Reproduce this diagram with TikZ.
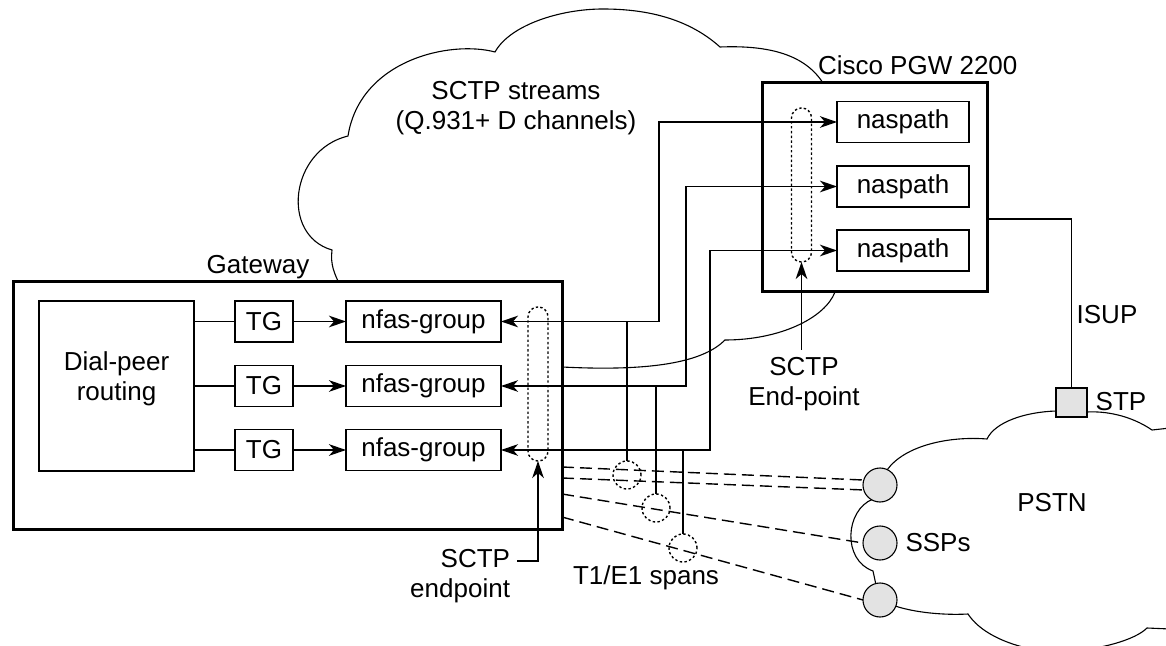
\documentclass[tikz,border=0pt]{standalone}
\usepackage{fontspec}
\setmainfont{Liberation Sans}
\usetikzlibrary{arrows.meta,calc}
\begin{document}
\begin{tikzpicture}[x=0.5pt,y=-0.5pt,
  every node/.style={font=\fontsize{13pt}{15pt}\selectfont, inner sep=0pt, outer sep=0pt},
  bigbox/.style={draw, line width=1.5pt, fill=white},
  box/.style={draw, line width=0.85pt, fill=white, minimum height=20.5pt},
  tgbox/.style={box, minimum width=29pt},
  nfbox/.style={box, minimum width=77.5pt},
  npbox/.style={box, minimum width=66pt},
  dotrect/.style={draw, line width=0.7pt, dash pattern=on 1.2pt off 1.2pt, rounded corners=4.9pt, minimum width=10pt, minimum height=77pt},
  dotcirc/.style={circle, draw, line width=0.7pt, dash pattern=on 1.2pt off 1.2pt, minimum size=14pt},
  ssp/.style={circle, draw, line width=0.55pt, fill=gray!22, minimum size=17pt},
  conn/.style={line width=0.85pt},
  tipst/.tip={Stealth[length=8.5pt,width=5.8pt,inset=2.5pt]},
  arr/.style={conn, -tipst},
  arrboth/.style={conn, tipst-tipst},
  spanline/.style={line width=0.7pt, dash pattern=on 6pt off 3pt},
  cloudline/.style={line width=0.55pt}
]
\useasboundingbox (0,0) rectangle (1166,646);
\clip (0,0) rectangle (1166,646);

% SCTP cloud
\draw[cloudline] (562,367) .. controls (660,372) and (705,360) .. (725,340)
  .. controls (780,340) and (825,318) .. (835,292) -- (823,83)
  .. controls (805,55) and (770,45) .. (720,47)
  .. controls (690,20) and (650,9) .. (603,9)
  .. controls (560,9) and (510,25) .. (495,52)
  .. controls (450,40) and (360,60) .. (348,136)
  .. controls (290,150) and (280,235) .. (332,250)
  .. controls (330,265) and (335,275) .. (340,285) -- (540,360);

% PSTN cloud
\draw[cloudline] (1170,428) -- (1152,430)
  .. controls (1130,415) and (1105,411) .. (1087,412) -- (1056,411)
  .. controls (1025,412) and (995,422) .. (987,439)
  .. controls (950,436) and (905,445) .. (887,470) -- (873,499)
  .. controls (845,510) and (842,560) .. (873,571) -- (876,585) -- (895,606)
  .. controls (920,614) and (950,615) .. (968,614)
  .. controls (985,640) and (1030,652) .. (1060,652)
  .. controls (1100,650) and (1135,640) .. (1147,628) -- (1170,629);

% Gateway
\node[bigbox, minimum width=274.5pt, minimum height=123.5pt] (gw) at (287.5,405.5) {};
\node at (258,267) {Gateway};
\node[draw, line width=0.85pt, fill=white, minimum width=77.5pt, minimum height=85pt] (dp) at (116.5,386) {};
\node[align=center] at (116.5,379) {Dial-peer\\routing};
\node[tgbox] (tg1) at (264,321.5) {TG};
\node[tgbox] (tg2) at (264,386) {TG};
\node[tgbox] (tg3) at (264,450) {TG};
\node[nfbox] (nf1) at (423.5,321.5) {nfas-group};
\node[nfbox] (nf2) at (423.5,386) {nfas-group};
\node[nfbox] (nf3) at (423.5,450) {nfas-group};
\node[dotrect] (ge) at (538,384) {};

\foreach \i in {1,2,3}{
  \draw[conn] (tg\i.west -| dp.east) -- (tg\i.west);
  \draw[arr] (tg\i) -- (nf\i);
}

% PGW
\node[bigbox, minimum width=112.5pt, minimum height=104.5pt] (pgw) at (874.5,187.5) {};
\node[anchor=west] at (818,65) {Cisco PGW 2200};
\node[npbox] (np1) at (903,122) {naspath};
\node[npbox] (np2) at (903,186.5) {naspath};
\node[npbox] (np3) at (903,250.5) {naspath};
\node[dotrect] (pe) at (801.5,185) {};

% D-channel connectors
\coordinate (b1) at (659,0);
\coordinate (b2) at (686,0);
\coordinate (b3) at (710,0);
\foreach \i in {1,2,3}{
  \draw[arrboth] (nf\i.east) -- (nf\i.east -| b\i) |- (np\i.west);
}

% T1/E1 span circles
\node[dotcirc] (s1) at (627,475) {};
\node[dotcirc] (s2) at (656,508) {};
\node[dotcirc] (s3) at (683,548) {};
\draw[conn] (s1.north) -- (s1.north |- nf1.east);
\draw[conn] (s2.north) -- (s2.north |- nf2.east);
\draw[conn] (s3.north) -- (s3.north |- nf3.east);

% SSPs and STP
\node[ssp] (ssp1) at (880,485) {};
\node[ssp] (ssp2) at (880,543) {};
\node[ssp] (ssp3) at (880,600) {};
\node[draw, line width=0.6pt, fill=gray!22, minimum width=15.5pt, minimum height=14.5pt] (stp) at (1071.5,402.5) {};
\node at (1121,402) {STP};
\node at (938,543) {SSPs};
\node at (1052,503) {PSTN};
\node at (1107,315) {ISUP};
\draw[line width=0.6pt] (pgw.east) ++(0,31.5) -| (stp.north);

% spans (dashed)
\coordinate (g1) at (562,467);
\coordinate (g2) at (562,478);
\coordinate (g3) at (562,494);
\coordinate (g4) at (562,517);
\draw[spanline] (g1) -- (ssp1.163);
\draw[spanline] (g2) -- (ssp1.197);
\draw[spanline] (g3) -- (ssp2.west);
\draw[spanline] (g4) -- (ssp3.west);
\node at (646,578) {T1/E1 spans};

% labels
\node at (516,108) [align=center] {SCTP streams\\(Q.931+ D channels)};
\node[align=right, anchor=east] (gel) at (510,576) {SCTP\\endpoint};
\coordinate (gec) at (517,561);
\draw[arr] (gec) -| (ge.south);
\node[align=center] (pel) at (804,384) {SCTP\\End-point};
\draw[arr] (pe.south |- 0,350) -- (pe.south);
\end{tikzpicture}
\end{document}
